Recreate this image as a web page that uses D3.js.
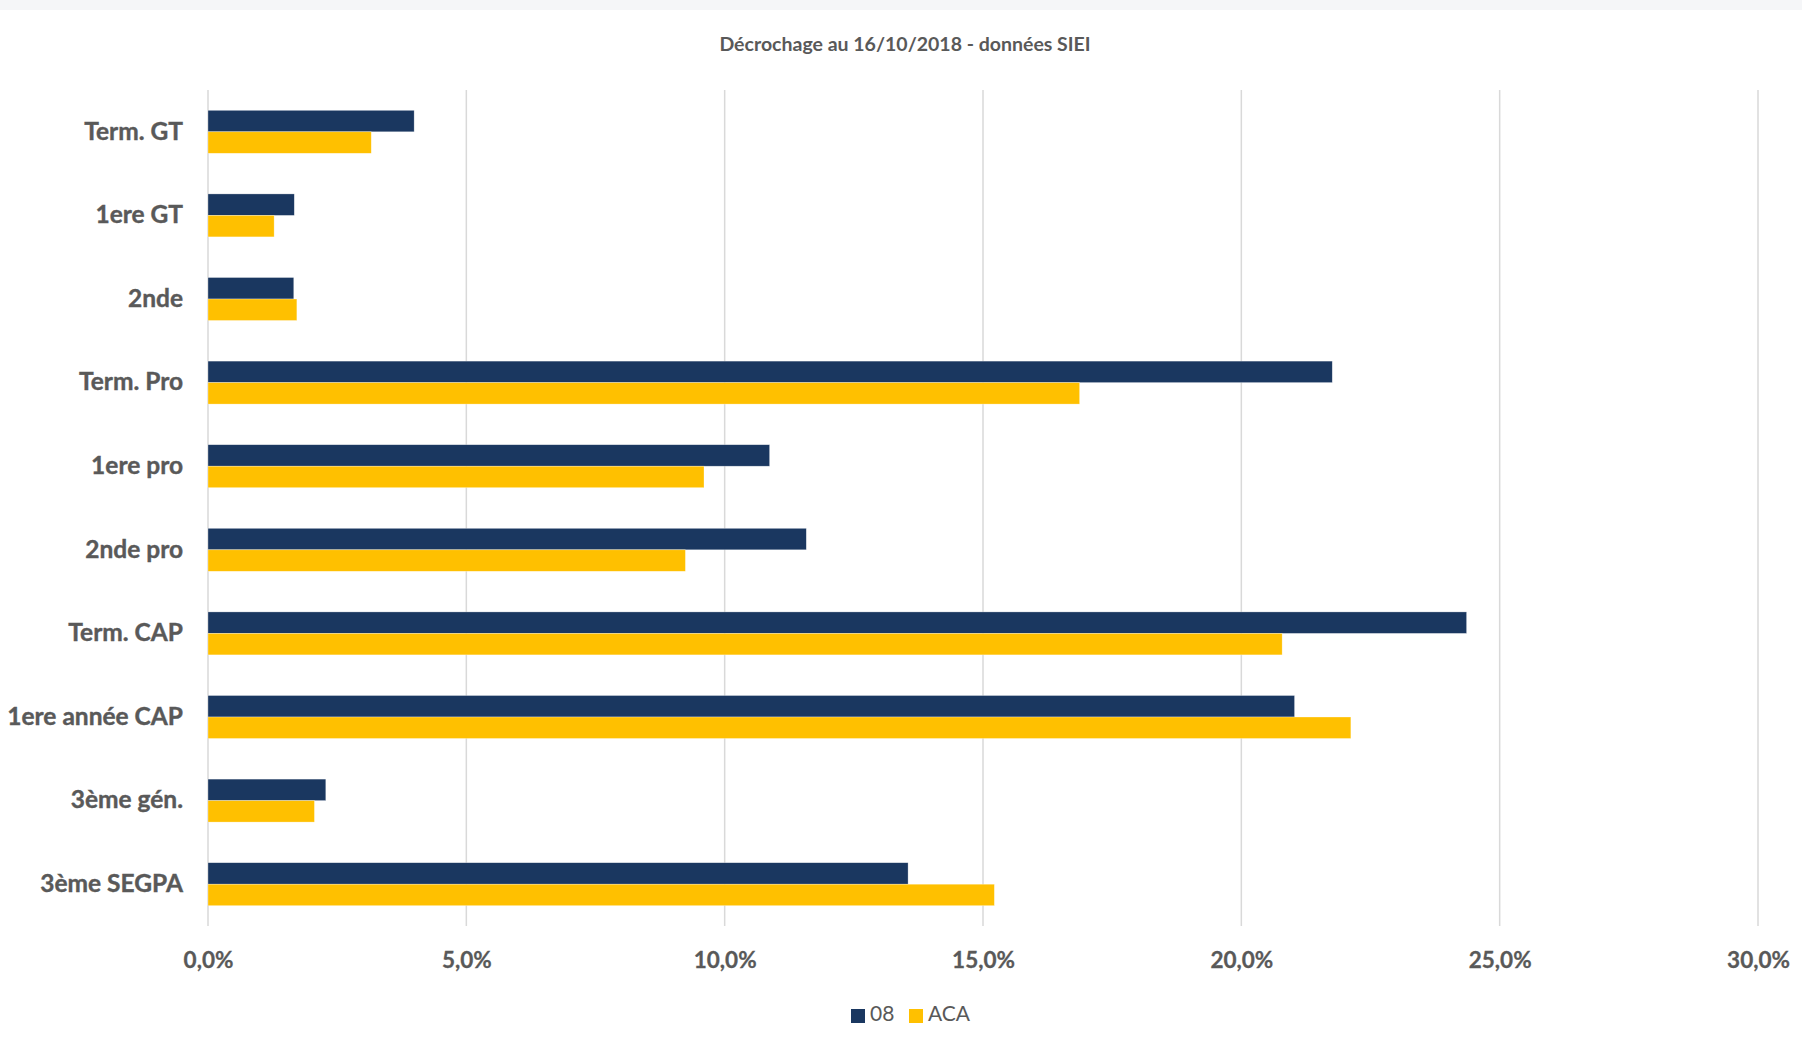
<!DOCTYPE html>
<html lang="fr">
<head>
<meta charset="UTF-8">
<title>Décrochage au 16/10/2018</title>
<style>
    body { margin: 0; background: #fff; }
    svg { display: block; }
    text { font-family: Lato, "Open Sans", sans-serif; fill: #595959; }
</style>
</head>
<body>
<svg id="chart" width="1802" height="1047"></svg>
<script src="https://d3js.org/d3.v7.min.js"></script>
<script>
    // données (en %)
    const categories = ["Term. GT", "1ere GT", "2nde", "Term. Pro", "1ere pro", "2nde pro",
                        "Term. CAP", "1ere année CAP", "3ème gén.", "3ème SEGPA"];
    const seriesNames = ["08", "ACA"];
    const values08  = [3.99, 1.67, 1.66, 21.76, 10.87, 11.58, 24.36, 21.03, 2.28, 13.55];
    const valuesACA = [3.16, 1.28, 1.72, 16.87, 9.60, 9.24, 20.79, 22.12, 2.06, 15.22];
    const xTicks = [0, 5, 10, 15, 20, 25, 30];
    const colors = ["#1a3760", "#ffc000"];

    const svg = d3.select("#chart");
    const W = +svg.attr("width");
    const margin = {top: 90, right: 44, bottom: 121, left: 208};
    const plotW = W - margin.left - margin.right;
    const plotBottom = +svg.attr("height") - margin.bottom;

    // bandeau gris en haut
    svg.append("rect").attr("x", 0).attr("y", 0).attr("width", W).attr("height", 10)
        .attr("fill", "#f5f6f8");

    svg.append("text")
        .attr("x", 905).attr("y", 46)
        .attr("text-anchor", "middle").attr("dominant-baseline", "middle")
        .attr("font-size", 19.5).attr("font-weight", 700)
        .text("Décrochage au 16/10/2018 - données SIEI");

    const x = d3.scaleLinear().domain([0, 30]).range([margin.left, margin.left + plotW]);
    const y = d3.scaleBand().domain(categories).range([margin.top, plotBottom])
        .paddingInner(0.486).paddingOuter(0.243);
    const ySub = d3.scaleBand().domain(seriesNames).range([0, y.bandwidth()]);

    // grille verticale
    svg.append("g").selectAll("line")
        .data(xTicks)
        .join("line")
        .attr("x1", d => x(d)).attr("x2", d => x(d))
        .attr("y1", margin.top).attr("y2", plotBottom)
        .attr("stroke", "#d9d9d9").attr("stroke-width", 1.5);

    const table = categories.map((c, i) => ({cat: c, vals: [values08[i], valuesACA[i]]}));

    const groups = svg.append("g").selectAll("g")
        .data(table)
        .join("g")
        .attr("transform", d => `translate(0,${y(d.cat)})`);

    groups.selectAll("rect")
        .data(d => d.vals.map((v, j) => ({name: seriesNames[j], v: v, j: j})))
        .join("rect")
        .attr("x", x(0))
        .attr("y", d => ySub(d.name))
        .attr("width", d => x(d.v) - x(0))
        .attr("height", ySub.bandwidth())
        .attr("fill", d => colors[d.j])
        .attr("stroke", "#ffffff").attr("stroke-opacity", 0.5).attr("stroke-width", 0.6);

    // libellés des catégories
    const yAxis = svg.append("g")
        .attr("transform", `translate(${margin.left},0)`)
        .call(d3.axisLeft(y).tickSize(0).tickPadding(25));
    yAxis.select(".domain").remove();
    yAxis.selectAll("text")
        .attr("font-size", 24.5).attr("font-weight", 700)
        .attr("fill", "#595959").style("font-family", "Lato, sans-serif")
        .attr("stroke", "#595959").attr("stroke-width", 0.4);

    // axe des x
    const fmt = d => d.toFixed(1).replace(".", ",") + "%";
    const xAxis = svg.append("g")
        .attr("transform", `translate(0,${plotBottom})`)
        .call(d3.axisBottom(x).tickValues(xTicks).tickFormat(fmt).tickSize(0).tickPadding(26));
    xAxis.select(".domain").remove();
    xAxis.selectAll("text")
        .attr("font-size", 22.5).attr("font-weight", 700)
        .attr("fill", "#595959").style("font-family", "Lato, sans-serif")
        .attr("stroke", "#595959").attr("stroke-width", 0.3);

    // légende
    const legend = svg.append("g").attr("transform", "translate(851,1009)");
    const items = legend.selectAll("g")
        .data(seriesNames)
        .join("g")
        .attr("transform", (d, i) => `translate(${i * 58},0)`);
    items.append("rect").attr("width", 14).attr("height", 14).attr("fill", (d, i) => colors[i]);
    items.append("text")
        .attr("x", 19).attr("y", 7)
        .attr("dominant-baseline", "middle")
        .attr("font-size", 21)
        .text(d => d);
</script>
</body>
</html>
